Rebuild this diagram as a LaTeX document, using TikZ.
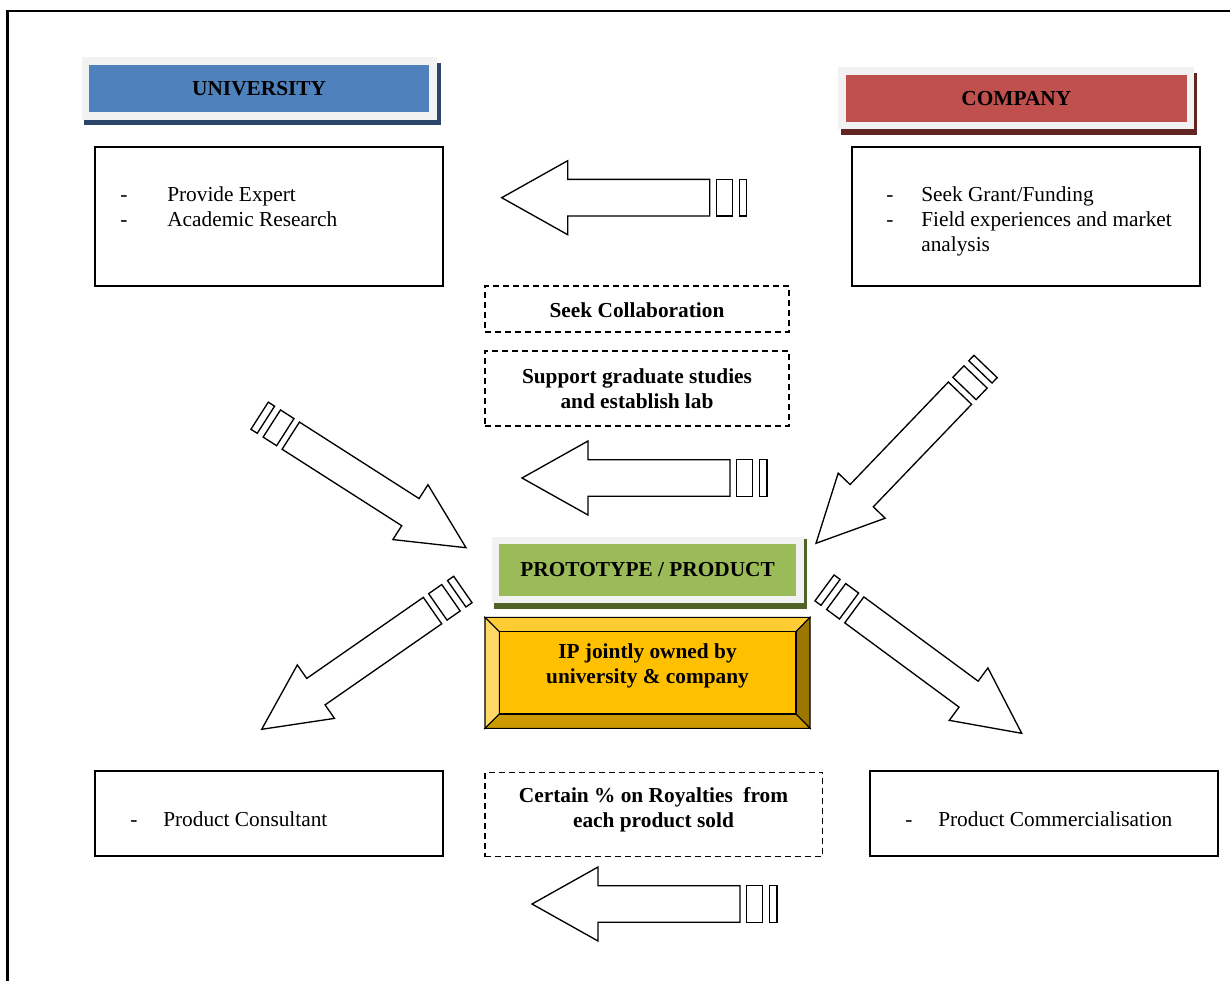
\documentclass[tikz,border=0pt]{standalone}
\usepackage{fontspec}
\setmainfont{Liberation Serif}
\usetikzlibrary{fit}

\definecolor{panelgray}{HTML}{F2F2F2}
\definecolor{uniblue}{HTML}{4F81BD}
\definecolor{unishade}{HTML}{2B4568}
\definecolor{compred}{HTML}{C0504D}
\definecolor{compshade}{HTML}{632523}
\definecolor{protogreen}{HTML}{9BBB59}
\definecolor{protoshade}{HTML}{4F6228}
\definecolor{ipgold}{HTML}{FFC000}
\definecolor{ipgoldtop}{HTML}{FFCD33}
\definecolor{ipgoldleft}{HTML}{FFD966}
\definecolor{ipgoldright}{HTML}{9C7700}
\definecolor{ipgoldbottom}{HTML}{CC9A00}

\tikzset{
  txtbox/.style={draw, line width=1pt, inner sep=0pt},
  dashbox/.style={draw, line width=0.9pt, dash pattern=on 4.5pt off 3pt, inner sep=0pt},
  plain/.style={inner sep=0pt, anchor=base west, font=\fontsize{16}{18.75}\selectfont},
  boldc/.style={inner sep=0pt, align=center, font=\fontsize{16}{18.75}\selectfont\bfseries},
  flat/.style={inner sep=0pt, draw=none},
  arrowline/.style={draw, line width=1pt, line join=miter, fill=white},
}

% hollow block arrow with two tail stripes; tip at (#1,#2), turned by #3, width scaled by #4
\newcommand{\stripedarrow}[4]{%
  \begin{scope}[shift={(#1,#2)}, rotate=#3, yscale=#4]
    \draw[arrowline] (0,0) -- (66,-37) -- (66,-18.3) -- (208,-18.3)
      -- (208,18.3) -- (66,18.3) -- (66,37) -- cycle;
    \draw[arrowline] (214.5,-18.3) rectangle (230.5,18.3);
    \draw[arrowline] (237.5,-18.3) rectangle (245,18.3);
  \end{scope}}

\begin{document}
\begin{tikzpicture}[x=0.75pt, y=-0.75pt]
  \useasboundingbox (0,0) rectangle (1230,981);

  % outer frame (left and top edges)
  \draw[line width=1.7pt] (7.5,981) -- (7.5,10.7) -- (1230,10.7);

  % ---------- UNIVERSITY header ----------
  \node[flat, fill=unishade, fit={(84,63)(440.7,125)}] (unishadow) {};
  \node[flat, fill=panelgray, fit={(81.7,57.3)(436.7,120)}] (unipanel) {};
  \node[flat, fill=uniblue, fit={(89,65)(429.3,112.3)}] (unihead) {};
  \node[boldc] (unititle) at (unihead.center) {UNIVERSITY};

  % ---------- COMPANY header ----------
  \node[flat, fill=compshade, fit={(841,72.7)(1197.3,135)}] (compshadow) {};
  \node[flat, fill=panelgray, fit={(838.3,66.7)(1194,129.3)}] (comppanel) {};
  \node[flat, fill=compred, fit={(846,75)(1186.7,121.7)}] (comphead) {};
  \node[boldc] (comptitle) at (comphead.center) {COMPANY};

  % ---------- top text boxes ----------
  \node[txtbox, fit={(95,147)(443,286)}] (unibox) {};
  \node[plain] (unidash1) at (120,201) {-};
  \node[plain] (unitext1) at (167,201) {Provide Expert};
  \node[plain] (unidash2) at (120,226) {-};
  \node[plain] (unitext2) at (167,226) {Academic Research};

  \node[txtbox, fit={(852,147)(1200,286)}] (compbox) {};
  \node[plain] (compdash1) at (886,201) {-};
  \node[plain] (comptext1) at (921,201) {Seek Grant/Funding};
  \node[plain] (compdash2) at (886,226) {-};
  \node[plain] (comptext2) at (921,226) {Field experiences and market};
  \node[plain] (comptext3) at (921,251) {analysis};

  % ---------- middle dashed boxes ----------
  \node[dashbox, fit={(485,286)(789,332)}] (seekbox) {};
  \node[boldc] (seektext) at (637,310.5) {Seek Collaboration};
  \node[dashbox, fit={(485,351)(789,426)}] (supportbox) {};
  \node[boldc] (supporttext) at (637,388.5) {Support graduate studies\\and establish lab};

  % ---------- PROTOTYPE / PRODUCT header ----------
  \node[flat, fill=protoshade, fit={(494,539.3)(806.7,609.3)}] (protoshadow) {};
  \node[flat, fill=panelgray, fit={(491.7,536.7)(804,603.3)}] (protopanel) {};
  \node[flat, fill=protogreen, fit={(499.3,544)(796,596)}] (protohead) {};
  \node[boldc] (prototitle) at (protohead.center) {PROTOTYPE / PRODUCT};

  % ---------- bevelled IP box ----------
  \coordinate (oTL) at (485,617.3);   \coordinate (oTR) at (810,617.3);
  \coordinate (oBL) at (485,728.3);   \coordinate (oBR) at (810,728.3);
  \coordinate (iTL) at (499.3,631.7); \coordinate (iTR) at (796,631.7);
  \coordinate (iBL) at (499.3,714);   \coordinate (iBR) at (796,714);
  \begin{scope}[line width=0.8pt, line join=miter]
    \filldraw[fill=ipgoldtop]    (oTL) -- (oTR) -- (iTR) -- (iTL) -- cycle;
    \filldraw[fill=ipgoldleft]   (oTL) -- (iTL) -- (iBL) -- (oBL) -- cycle;
    \filldraw[fill=ipgoldright]  (oTR) -- (oBR) -- (iBR) -- (iTR) -- cycle;
    \filldraw[fill=ipgoldbottom] (oBL) -- (iBL) -- (iBR) -- (oBR) -- cycle;
    \filldraw[fill=ipgold] (iTL) rectangle (iBR);
  \end{scope}
  \node[boldc] (iptext) at (647.5,666) {IP jointly owned by\\university \& company};

  % ---------- bottom boxes ----------
  \node[txtbox, fit={(95,771)(443,856)}] (consultbox) {};
  \node[plain] (consultdash) at (130,826) {-};
  \node[plain] (consulttext) at (163,826) {Product Consultant};

  \node[dashbox, fit={(485,772.3)(822.7,856.7)}] (royaltybox) {};
  \node[boldc] (royaltytext) at (653.5,810) {Certain \% on Royalties\ \ from\\each product sold};

  \node[txtbox, fit={(870,771)(1218,856)}] (commbox) {};
  \node[plain] (commdash) at (905,826) {-};
  \node[plain] (commtext) at (938,826) {Product Commercialisation};

  % ---------- block arrows ----------
  \stripedarrow{501.7}{197.7}{0}{1}
  \stripedarrow{522}{478}{0}{1}
  \stripedarrow{532}{904}{0}{1}
  \stripedarrow{466}{547.7}{147.4}{0.88}
  \stripedarrow{816}{543.3}{46.2}{0.88}
  \stripedarrow{261.7}{729.3}{34.8}{0.88}
  \stripedarrow{1021.7}{733.3}{143.6}{0.88}
\end{tikzpicture}
\end{document}
